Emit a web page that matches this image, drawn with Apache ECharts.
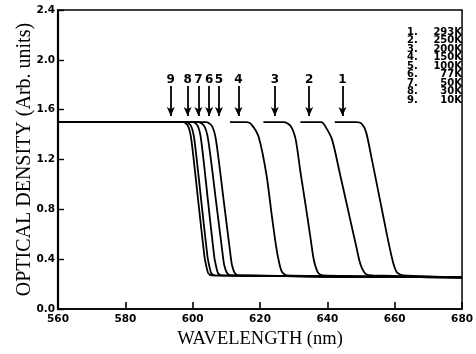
<!DOCTYPE html>
<html>
<head>
<meta charset="utf-8">
<script src="https://cdn.jsdelivr.net/npm/echarts@6/dist/echarts.min.js"></script>
<style>html,body{margin:0;padding:0;background:#fff}#c{width:476px;height:354px}</style>
</head>
<body>
<div id="c"></div>
<script>
// ---- data ----
var curveNames = ['1', '2', '3', '4', '5', '6', '7', '8', '9'];
var tempLabels = ['293K', '250K', '200K', '150K', '100K', '77K', '50K', '30K', '10K'];
var xTicks = [560, 580, 600, 620, 640, 660, 680];
var yTicks = [0.0, 0.4, 0.8, 1.2, 1.6, 2.0, 2.4];

var c1 = [[642.2,1.50],[648.6,1.50],[650.1,1.49],[651.5,1.42],[653.0,1.23],[655.3,0.92],[657.6,0.61],[659.1,0.42],[659.9,0.34],[660.8,0.29],[662.6,0.27],[680,0.255]];
var c2 = [[632.0,1.50],[638.2,1.50],[639.3,1.47],[641.4,1.36],[643.7,1.09],[646.6,0.74],[648.6,0.50],[649.5,0.39],[650.4,0.32],[651.5,0.28],[653.5,0.27],[680,0.255]];
var c3 = [[621.0,1.50],[627.1,1.50],[629.1,1.47],[630.6,1.36],[632.0,1.10],[633.5,0.84],[635.0,0.57],[635.8,0.42],[636.4,0.35],[637.3,0.29],[638.7,0.27],[680,0.255]];
var c4 = [[611.1,1.50],[616.1,1.50],[617.5,1.48],[619.6,1.38],[621.9,1.08],[623.6,0.73],[624.8,0.50],[625.7,0.37],[626.5,0.30],[628.0,0.27],[680,0.255]];
var c5 = [[560,1.50],[604.0,1.50],[605.7,1.47],[606.9,1.36],[609.4,0.83],[611.3,0.42],[611.7,0.35],[612.5,0.29],[613.7,0.27],[680,0.255]];
var c6 = [[560,1.50],[601.7,1.50],[603.4,1.47],[604.6,1.36],[607.1,0.83],[609.0,0.42],[609.4,0.35],[610.2,0.29],[611.4,0.27],[680,0.255]];
var c7 = [[560,1.50],[600.1,1.50],[601.5,1.47],[602.5,1.36],[604.7,0.83],[606.4,0.42],[606.9,0.35],[607.5,0.29],[608.6,0.27],[680,0.255]];
var c8 = [[560,1.50],[598.1,1.50],[599.5,1.47],[600.5,1.36],[602.7,0.83],[604.4,0.42],[604.9,0.35],[605.5,0.29],[606.6,0.27],[680,0.255]];
var c9 = [[560,1.50],[597.2,1.50],[598.6,1.47],[599.6,1.36],[601.8,0.83],[603.5,0.42],[604.0,0.35],[604.6,0.29],[605.7,0.27],[680,0.255]];
var curves = [c1, c2, c3, c4, c5, c6, c7, c8, c9];

// arrows: label, wavelength, top value, tip value
var arrowLabels = ['1', '2', '3', '4', '5', '6', '7', '8', '9'];
var arrowX = [644.5, 634.6, 624.4, 613.6, 607.8, 604.9, 601.7, 598.5, 593.5];
var arrowTop = 1.79;
var arrowTip = 1.55;

// ---- chart ----
var chart = echarts.init(document.getElementById('c'), null, {renderer: 'canvas'});
var tickFont = {fontFamily: 'DejaVu Sans', fontWeight: 'bold', fontSize: 10.5, color: '#000'};

var series = curves.map(function (d, i) {
  return {
    name: curveNames[i], type: 'line', data: d, showSymbol: false, symbol: 'none',
    smooth: 0.25,
    lineStyle: {color: '#000', width: 1.8}, silent: true, animation: false, z: 3
  };
});

var mlData = arrowX.map(function (x, i) {
  return [
    {coord: [x, arrowTop], symbol: 'none', label: {show: true, position: 'start', formatter: arrowLabels[i], distance: 0,
      fontFamily: 'DejaVu Sans', fontWeight: 'bold', fontSize: 12, color: '#000'}},
    {coord: [x, arrowTip], symbol: 'arrow', symbolSize: [6, 9]}
  ];
});
series.push({
  type: 'line', data: [], silent: true, animation: false,
  markLine: {
    silent: true, animation: false, symbol: ['none', 'arrow'], symbolSize: [6, 9],
    lineStyle: {color: '#000', width: 1.8, type: 'solid'},
    data: mlData
  }
});

var graphics = [];
tempLabels.forEach(function (t, i) {
  var y = 32 + i * 8.5;
  graphics.push({type: 'text', x: 407, y: y, silent: true,
    style: {text: (i + 1) + '.', fontFamily: 'DejaVu Sans', fontWeight: 'bold', fontSize: 10, fill: '#000', textAlign: 'left', textVerticalAlign: 'middle'}});
  graphics.push({type: 'text', x: 462, y: y, silent: true,
    style: {text: t, fontFamily: 'DejaVu Sans', fontWeight: 'bold', fontSize: 10, fill: '#000', textAlign: 'right', textVerticalAlign: 'middle'}});
});

chart.setOption({
  animation: false,
  backgroundColor: '#fff',
  grid: {left: 58, right: 6, top: 10, bottom: 39, show: true, borderColor: '#000', borderWidth: 1.5, backgroundColor: 'transparent'},
  xAxis: {
    type: 'value', min: xTicks[0], max: xTicks[xTicks.length - 1], interval: 20,
    name: 'WAVELENGTH (nm)', nameLocation: 'middle', nameGap: 18,
    nameTextStyle: {fontFamily: 'Liberation Serif', fontSize: 18.5, color: '#000'},
    axisLine: {show: true, lineStyle: {color: '#000', width: 1.6}},
    axisTick: {show: true, inside: true, length: 7, lineStyle: {color: '#000', width: 1.6}},
    axisLabel: Object.assign({margin: 5, formatter: function (v) { return String(v); }}, tickFont),
    splitLine: {show: false}
  },
  yAxis: {
    type: 'value', min: yTicks[0], max: yTicks[yTicks.length - 1], interval: 0.4,
    name: 'OPTICAL DENSITY (Arb. units)', nameLocation: 'middle', nameGap: 23, nameMoveOverlap: false,
    nameTextStyle: {fontFamily: 'Liberation Serif', fontSize: 20, color: '#000'},
    axisLine: {show: true, lineStyle: {color: '#000', width: 2.2}},
    axisTick: {show: true, inside: true, length: 6, lineStyle: {color: '#000', width: 1.4}},
    axisLabel: Object.assign({margin: 3, formatter: function (v) { return v.toFixed(1); }}, tickFont),
    splitLine: {show: false}
  },
  graphic: graphics,
  series: series
});
</script>
</body>
</html>
